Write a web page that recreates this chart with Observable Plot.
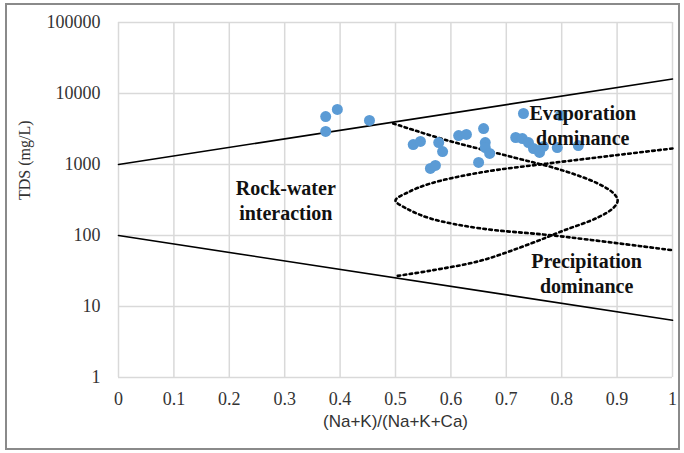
<!DOCTYPE html>
<html>
<head>
<meta charset="utf-8">
<script src="https://cdn.jsdelivr.net/npm/d3@7"></script>
<script src="https://cdn.jsdelivr.net/npm/@observablehq/plot@0.6"></script>
<style>
  html, body { margin: 0; padding: 0; background: #fff; }
  #wrap { position: relative; width: 684px; height: 453px; }
  #border { position: absolute; left: 5px; top: 3px; width: 675px; height: 447px; box-sizing: border-box; border: 2px solid #8a8a8a; pointer-events: none; }
  #wrap svg text { font-family: "Liberation Serif", "DejaVu Serif", serif; }
  #wrap svg text.sans { font-family: "Liberation Sans", Arial, sans-serif; }
</style>
</head>
<body>
<div id="wrap"><div id="border"></div></div>
<script>
// Sample values: (Na+K)/(Na+K+Ca) ratio and TDS (mg/L)
const ratio = [0.374, 0.395, 0.374, 0.453, 0.532, 0.545, 0.578, 0.585, 0.563, 0.572,
               0.614, 0.628, 0.659, 0.662, 0.662, 0.670, 0.650, 0.717, 0.731, 0.729,
               0.740, 0.749, 0.760, 0.767, 0.792, 0.798, 0.830];
const tds   = [4740, 5960, 2920, 4170, 1910, 2110, 2040, 1520, 880, 970,
               2560, 2650, 3210, 2040, 1730, 1430, 1070, 2400, 5230, 2320,
               2040, 1680, 1480, 1800, 1730, 4900, 1850];

// Gibbs boundary lines (solid)
const upperX = [0, 1];
const upperY = [1000, 16000];
const lowerX = [0, 1];
const lowerY = [100, 6.4];

// Dotted boomerang curves
const curveAX = [0.496, 0.594, 0.713, 0.803, 0.865, 0.894, 0.901, 0.894, 0.865, 0.803, 0.744, 0.653, 0.563, 0.504];
const curveAY = [3780, 2180, 1260, 820, 540, 390, 311, 248, 179, 117, 77, 44, 32, 27];
const curveBX = [1.0, 0.894, 0.774, 0.653, 0.563, 0.522, 0.5, 0.52, 0.563, 0.653, 0.785, 1.0];
const curveBY = [1680, 1340, 1030, 771, 540, 404, 311, 240, 174, 126, 100, 62];

// Region labels
const regionText = ["Rock-water\ninteraction", "Evaporation\ndominance", "Precipitation\ndominance"];
const regionX = [0.302, 0.838, 0.845];
const regionY = [320, 3700, 29.7];

// Ticks
const xTicks = [0, 0.1, 0.2, 0.3, 0.4, 0.5, 0.6, 0.7, 0.8, 0.9, 1];
const yTicks = [1, 10, 100, 1000, 10000, 100000];
const xTitle = "(Na+K)/(Na+K+Ca)";
const yTitle = "TDS (mg/L)";

const pts = ratio.map((r, i) => ({x: r, y: tds[i]}));
const upper = upperX.map((x, i) => ({x, y: upperY[i]}));
const lower = lowerX.map((x, i) => ({x, y: lowerY[i]}));
const curveA = curveAX.map((x, i) => ({x, y: curveAY[i]}));
const curveB = curveBX.map((x, i) => ({x, y: curveBY[i]}));
const regions = regionText.map((t, i) => ({t, x: regionX[i], y: regionY[i]}));

const serif = "Liberation Serif";

const chart = Plot.plot({
  width: 684,
  height: 453,
  marginLeft: 118,
  marginRight: 12,
  marginTop: 22,
  marginBottom: 76,
  style: {fontSize: "18px", color: "#333", background: "transparent"},
  x: {domain: [0, 1]},
  y: {type: "log", domain: [1, 100000]},
  marks: [
    Plot.gridX(xTicks, {stroke: "#d9d9d9", strokeOpacity: 1, strokeWidth: 1.5}),
    Plot.gridY(yTicks, {stroke: "#d9d9d9", strokeOpacity: 1, strokeWidth: 1.5}),
    Plot.axisX(xTicks, {tickSize: 0, tickPadding: 15, label: null, tickFormat: d3.format("~g"), fontSize: 18, fontFamily: serif, fill: "#333"}),
    Plot.axisY(yTicks, {tickSize: 0, tickPadding: 18, label: null, tickFormat: d3.format("d"), fontSize: 18, fontFamily: serif, fill: "#333"}),
    Plot.line(upper, {x: "x", y: "y", stroke: "#000", strokeWidth: 1.6}),
    Plot.line(lower, {x: "x", y: "y", stroke: "#000", strokeWidth: 1.6}),
    Plot.line(curveA, {x: "x", y: "y", curve: "catmull-rom", stroke: "#000", strokeWidth: 2.6, strokeDasharray: "2.6,3.4"}),
    Plot.line(curveB, {x: "x", y: "y", curve: "catmull-rom", stroke: "#000", strokeWidth: 2.6, strokeDasharray: "2.6,3.4"}),
    Plot.dot(pts, {x: "x", y: "y", r: 5.5, fill: "#5b9bd5", stroke: "none"}),
    Plot.text(regions, {x: "x", y: "y", text: "t", fontFamily: serif, fontWeight: "bold", fontSize: 20, lineHeight: 1.25, fill: "#111"}),
    Plot.text([yTitle], {text: d => d, frameAnchor: "left", dx: -94, rotate: -90, fontFamily: serif, fontSize: 16, fill: "#333"}),
    Plot.text([xTitle], {text: d => d, frameAnchor: "bottom", dy: 49, fontSize: 17, fill: "#333", className: "xtitle"})
  ]
});
chart.querySelectorAll(".xtitle text").forEach(t => t.classList.add("sans"));
document.getElementById("wrap").prepend(chart);
</script>
</body>
</html>
